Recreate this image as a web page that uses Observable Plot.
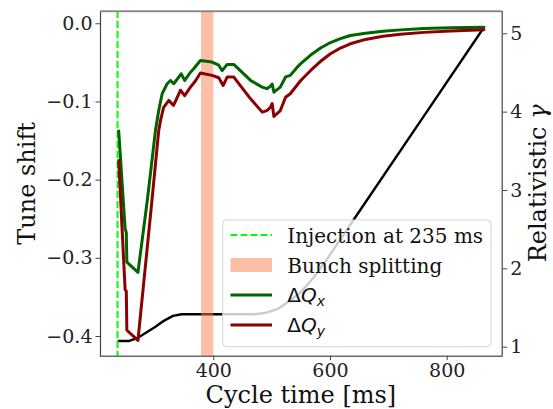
<!DOCTYPE html>
<html><head><meta charset="utf-8">
<script src="https://cdn.jsdelivr.net/npm/d3@7"></script>
<script src="https://cdn.jsdelivr.net/npm/@observablehq/plot@0.6"></script>
<style>
html,body{margin:0;padding:0;background:#fff;}
#chart{position:relative;width:553px;height:409px;overflow:hidden;}
svg{display:block;}
</style></head><body><div id="chart"></div>
<script>
// ---- data ----
const injectionMs = 235;
const splitStartMs = 379;
const splitEndMs = 400;

const dqxTime = [237,248,250,251,270,286,294,300,305.6,311.5,320,325.7,331.4,344,350.2,360,365.6,377,397,408.5,414.3,422.9,434.2,463,483,491,497,500,503,514,523,531,543,549,566,583,600,617,634,660,690,720,760,806,863];
const dqxValue = [-0.137,-0.262,-0.267,-0.305,-0.318,-0.226,-0.175,-0.1365,-0.111,-0.0895,-0.0767,-0.0725,-0.0767,-0.064,-0.0725,-0.062,-0.0575,-0.047,-0.049,-0.053,-0.060,-0.052,-0.052,-0.0725,-0.081,-0.083,-0.080,-0.077,-0.0875,-0.081,-0.068,-0.066,-0.0555,-0.051,-0.040,-0.031,-0.024,-0.019,-0.015,-0.012,-0.0095,-0.0078,-0.0062,-0.0052,-0.0043];

const dqyTime = [237,248,250,251,270,294,305.6,308.6,314,323,331,343,350,360,369,377,397,408.5,416,423,434,463,483,491,497,500,503,514,523,531,549,566,583,600,617,634,660,690,720,760,806,863];
const dqyValue = [-0.175,-0.34,-0.342,-0.392,-0.405,-0.226,-0.1365,-0.124,-0.107,-0.098,-0.1045,-0.085,-0.092,-0.081,-0.0725,-0.063,-0.066,-0.069,-0.079,-0.068,-0.068,-0.096,-0.113,-0.111,-0.107,-0.102,-0.1186,-0.111,-0.094,-0.0895,-0.0725,-0.0597,-0.048,-0.0384,-0.031,-0.0256,-0.020,-0.016,-0.0135,-0.011,-0.0092,-0.0077];

const gammaTime = [237,255,270,285,300,315,330,345,360,470,490,510,530,550,570,590,620,660,760,862];
const gammaValue = [1.08,1.08,1.12,1.19,1.26,1.34,1.40,1.42,1.42,1.42,1.44,1.49,1.59,1.71,1.88,2.08,2.41,2.85,3.95,5.07];

const tuneTicks = [-0.4,-0.3,-0.2,-0.1,0.0];
const gammaTicks = [1,2,3,4,5];
const timeTicks = [400,600,800];

const labelLeft = "Tune shift";
const labelRight = "Relativistic ";
const labelRightSym = "γ";
const labelX = "Cycle time [ms]";
const legendLabels = ["Injection at 235 ms","Bunch splitting"];

// ---- twin-axis alignment: gamma axis expressed on tune-shift scale ----
const tuneDomain = [-0.4252, 0.0157];
const timeDomain = [205.8, 894.3];
const gammaAnchor = [1, 5], tuneAnchor = [-0.4137, -0.0128];
const g2t = d3.scaleLinear().domain(gammaAnchor).range(tuneAnchor);

const dqx = dqxTime.map((t,i)=>({t, v:dqxValue[i]}));
const dqy = dqyTime.map((t,i)=>({t, v:dqyValue[i]}));
const gam = gammaTime.map((t,i)=>({t, v:g2t(gammaValue[i])}));

const fmt = d3.format(".1f");
const FONT = "DejaVu Serif";

const plot = Plot.plot({
  width: 553, height: 409,
  marginLeft: 100, marginRight: 51.3, marginTop: 11, marginBottom: 53.3,
  style: {fontFamily: FONT, fontSize: "19px", background: "#fff", color: "#222"},
  x: {domain: timeDomain},
  y: {domain: tuneDomain},
  marks: [
    Plot.line(gam, {x:"t", y:"v", stroke:"#000", strokeWidth:2.4}),
    Plot.rect([{a:splitStartMs, b:splitEndMs}], {x1:"a", x2:"b", fill:"coral", fillOpacity:0.5}),
    Plot.ruleX([injectionMs], {stroke:"#00ff00", strokeWidth:2, strokeDasharray:"7,3"}),
    Plot.line(dqx, {x:"t", y:"v", stroke:"#006400", strokeWidth:3}),
    Plot.line(dqy, {x:"t", y:"v", stroke:"#8b0000", strokeWidth:3}),
    Plot.axisX(timeTicks, {tickSize:4.5, tickPadding:3, label:null, stroke:"#444", fill:"#222"}),
    Plot.axisY(tuneTicks, {anchor:"left", tickSize:4.5, tickPadding:3.5, label:null, tickFormat:d=>fmt(d), stroke:"#444", fill:"#222"}),
    Plot.axisY(gammaTicks.map(g=>g2t(g)), {anchor:"right", tickSize:4.5, tickPadding:3.5, label:null, tickFormat:d=>String(Math.round(g2t.invert(d))), stroke:"#444", fill:"#222"}),
    Plot.frame({stroke:"#444", strokeWidth:1.2})
  ]
});
document.getElementById("chart").appendChild(plot);

const svg = d3.select(plot);
// top spine (lighter)
svg.append("line").attr("x1",100).attr("x2",501.7).attr("y1",11).attr("y2",11)
  .attr("stroke","#999").attr("stroke-width",1.5);

// axis titles
svg.append("text").attr("transform","translate(35,183.4) rotate(-90)")
  .attr("text-anchor","middle").attr("font-family",FONT).attr("font-size",24).attr("fill","#111").text(labelLeft);
const rt = svg.append("text").attr("transform","translate(546,183.4) rotate(-90)")
  .attr("text-anchor","middle").attr("font-family",FONT).attr("font-size",24).attr("fill","#111");
rt.append("tspan").text(labelRight);
rt.append("tspan").attr("font-style","italic").text(labelRightSym);
svg.append("text").attr("x",300.9).attr("y",403).attr("text-anchor","middle")
  .attr("font-family",FONT).attr("font-size",24).attr("fill","#111").text(labelX);

// legend
const lg = svg.append("g").attr("text-anchor","start");
lg.append("rect").attr("x",222.7).attr("y",220).attr("width",268.3).attr("height",126.7).attr("rx",4)
  .attr("fill","#fff").attr("fill-opacity",0.8).attr("stroke","#d5d5d5").attr("stroke-width",1);
const hx1 = 230.5, hx2 = 272, tx = 287.3;
const rowY = [235, 265, 295, 325];
lg.append("line").attr("x1",hx1).attr("x2",hx2).attr("y1",rowY[0]).attr("y2",rowY[0])
  .attr("stroke","#00ff00").attr("stroke-width",2).attr("stroke-dasharray","7,3");
lg.append("rect").attr("x",hx1).attr("y",rowY[1]-7).attr("width",hx2-hx1).attr("height",14)
  .attr("fill","coral").attr("fill-opacity",0.5);
lg.append("line").attr("x1",hx1).attr("x2",hx2).attr("y1",rowY[2]).attr("y2",rowY[2])
  .attr("stroke","#006400").attr("stroke-width",3);
lg.append("line").attr("x1",hx1).attr("x2",hx2).attr("y1",rowY[3]).attr("y2",rowY[3])
  .attr("stroke","#8b0000").attr("stroke-width",3);
legendLabels.forEach((s,i)=>{
  lg.append("text").attr("x",tx).attr("y",rowY[i]+8).attr("text-anchor","start")
    .attr("font-family",FONT).attr("font-size",20).attr("fill","#111").text(s);
});
["x","y"].forEach((sub,i)=>{
  const t = lg.append("text").attr("x",tx).attr("y",rowY[2+i]+7).attr("text-anchor","start")
    .attr("font-family","DejaVu Sans").attr("font-size",20).attr("fill","#111");
  t.append("tspan").text("Δ");
  t.append("tspan").attr("font-style","italic").text("Q");
  t.append("tspan").attr("font-style","italic").attr("font-size",14).attr("dy",4).text(sub);
});
</script>
</body></html>
